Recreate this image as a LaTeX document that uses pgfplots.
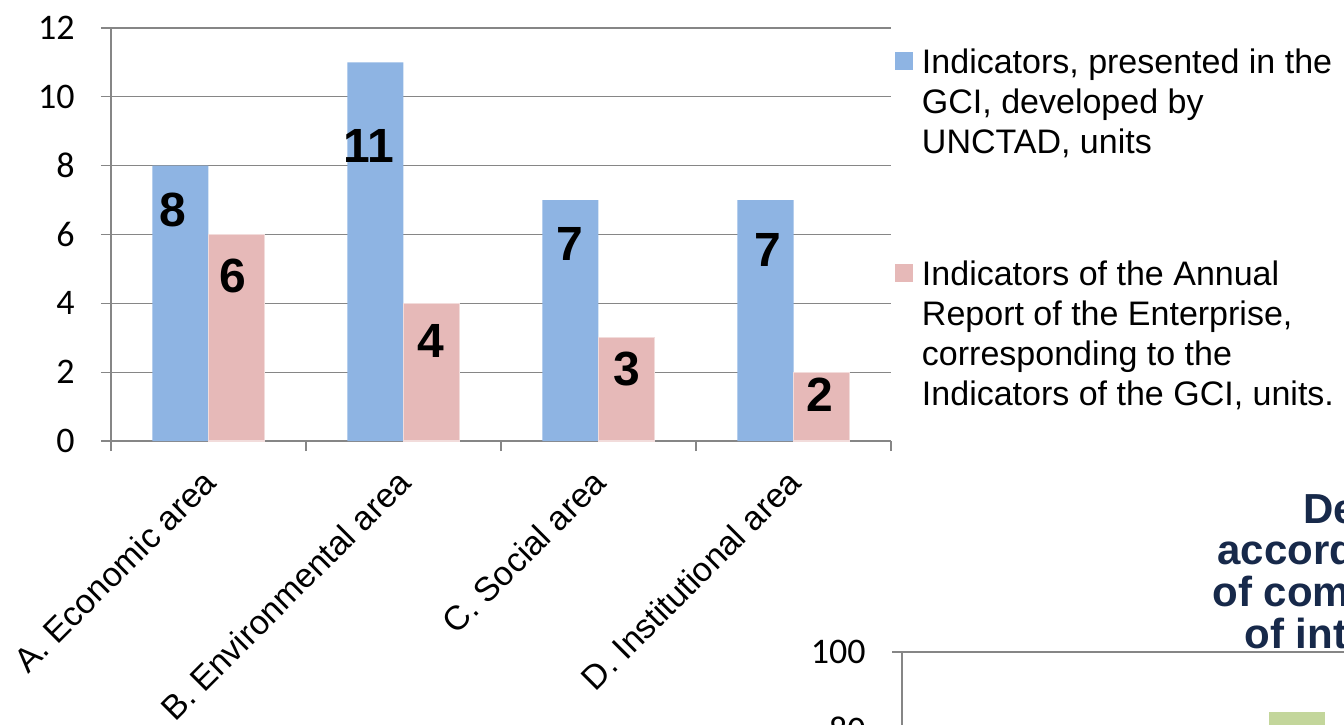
\documentclass[border=0pt]{standalone}
\usepackage{pgfplots}
\pgfplotsset{compat=1.18}
\usepackage{fontspec}
\setmainfont{Liberation Sans}
\newfontfamily\carlito{Carlito}
\definecolor{barblue}{HTML}{8EB4E3}
\definecolor{barpink}{HTML}{E6B9B8}
\definecolor{pinkedge}{HTML}{F2DCDB}
\definecolor{gridgray}{HTML}{868686}
\definecolor{bargreen}{HTML}{C3D69B}
\definecolor{titlenavy}{HTML}{17294A}
\pgfplotsset{
  sqlegend/.style={legend image code/.code={%
    \path[draw=none, fill=none] (0pt,0pt) rectangle (9pt,-1pt);
    \fill[##1, draw=none] (0pt,-1.5pt) rectangle (9pt,-10.5pt);}},
  chartstyle/.style={
    scale only axis,
    axis lines=left,
    axis line style={-, draw=gridgray, line width=0.65pt},
    tick align=outside,
    major tick length=5pt,
    tick style={draw=gridgray, line width=0.65pt},
    ymajorgrids,
    major grid style={draw=gridgray, line width=0.65pt},
    /pgf/number format/assume math mode=true,
    yticklabel style={font=\carlito\fontsize{18}{20}\selectfont, inner sep=0pt, anchor=east, xshift=-13pt},
  },
}
\begin{document}
\begin{tikzpicture}
\path[use as bounding box] (-55.5pt,-141.5pt) rectangle (616.5pt,220.5pt);
\clip (-55.5pt,-141.5pt) rectangle (616.5pt,220.5pt);
\begin{axis}[
  chartstyle,
  at={(0pt,0pt)}, anchor=south west,
  width=390pt, height=206.5pt,
  xmin=-0.5, xmax=3.5, ymin=0, ymax=12,
  ytick={0,2,...,12},
  xtick={-0.5,0.5,1.5,2.5,3.5},
  xticklabels={,,},
  extra x ticks={0,1,2,3},
  extra x tick labels={A. Economic area, B. Environmental area, C. Social area, D. Institutional area},
  extra x tick style={major tick length=0pt, grid=none},
  xticklabel style={font=\fontsize{17}{20}\selectfont, inner sep=0pt, yshift=-13pt, xshift=-4pt, rotate=45, anchor=north east},
  legend style={at={(1.00513,0.9492)}, anchor=north west, draw=none, fill=none,
    inner sep=0pt, outer sep=0pt, font=\fontsize{17}{20}\selectfont,
    row sep=52pt, column sep=4.5pt,
    cells={anchor=north west, align=left}, nodes={inner sep=0pt}},
]
\addplot[ybar, bar width=28pt, bar shift=-14pt, fill=barblue, draw=none, sqlegend]
  coordinates {(0,8) (1,11) (2,7) (3,7)};
\addlegendentry{Indicators, presented in the\\GCI, developed by\\UNCTAD, units}
\addplot[ybar, bar width=28pt, bar shift=14pt, fill=barpink, draw=pinkedge, line width=0.6pt, sqlegend]
  coordinates {(0,6) (1,4) (2,3) (3,2)};
\addlegendentry{Indicators of the Annual\\Report of the Enterprise,\\corresponding to the\\Indicators of the GCI, units.}
\addplot[forget plot, only marks, mark=*, mark size=0pt, mark options={draw=none, fill=none},
  point meta=explicit symbolic, nodes near coords, nodes near coords align={center},
  every node near coord/.append style={font=\bfseries\fontsize{24}{28}\selectfont, inner sep=0pt, anchor=center, text=black}]
  coordinates {(-0.182,6.71)[8] (0.126,4.79)[6] (0.823,8.585)[11] (1.141,2.905)[4]
               (1.854,5.72)[7] (2.146,2.09)[3] (2.869,5.56)[7] (3.136,1.34)[2]};
\end{axis}
\begin{axis}[
  chartstyle,
  at={(395.5pt,-105.5pt)}, anchor=north west,
  width=300pt, height=192.5pt,
  xmin=0, xmax=10, ymin=0, ymax=100,
  ytick={0,20,...,100},
  xtick=\empty,
]
\addplot[ybar, bar width=28pt, fill=bargreen, draw=none] coordinates {(6.583,84.4)};
\end{axis}
\begin{scope}[every node/.style={anchor=base west, inner sep=0pt, text=titlenavy, font=\bfseries\fontsize{21}{25}\selectfont}]
\node at (596pt,-41pt) {De};
\node at (553pt,-61.75pt) {accord};
\node at (550.5pt,-82.5pt) {of com};
\node at (566.5pt,-103.5pt) {of int};
\end{scope}
\end{tikzpicture}
\end{document}
